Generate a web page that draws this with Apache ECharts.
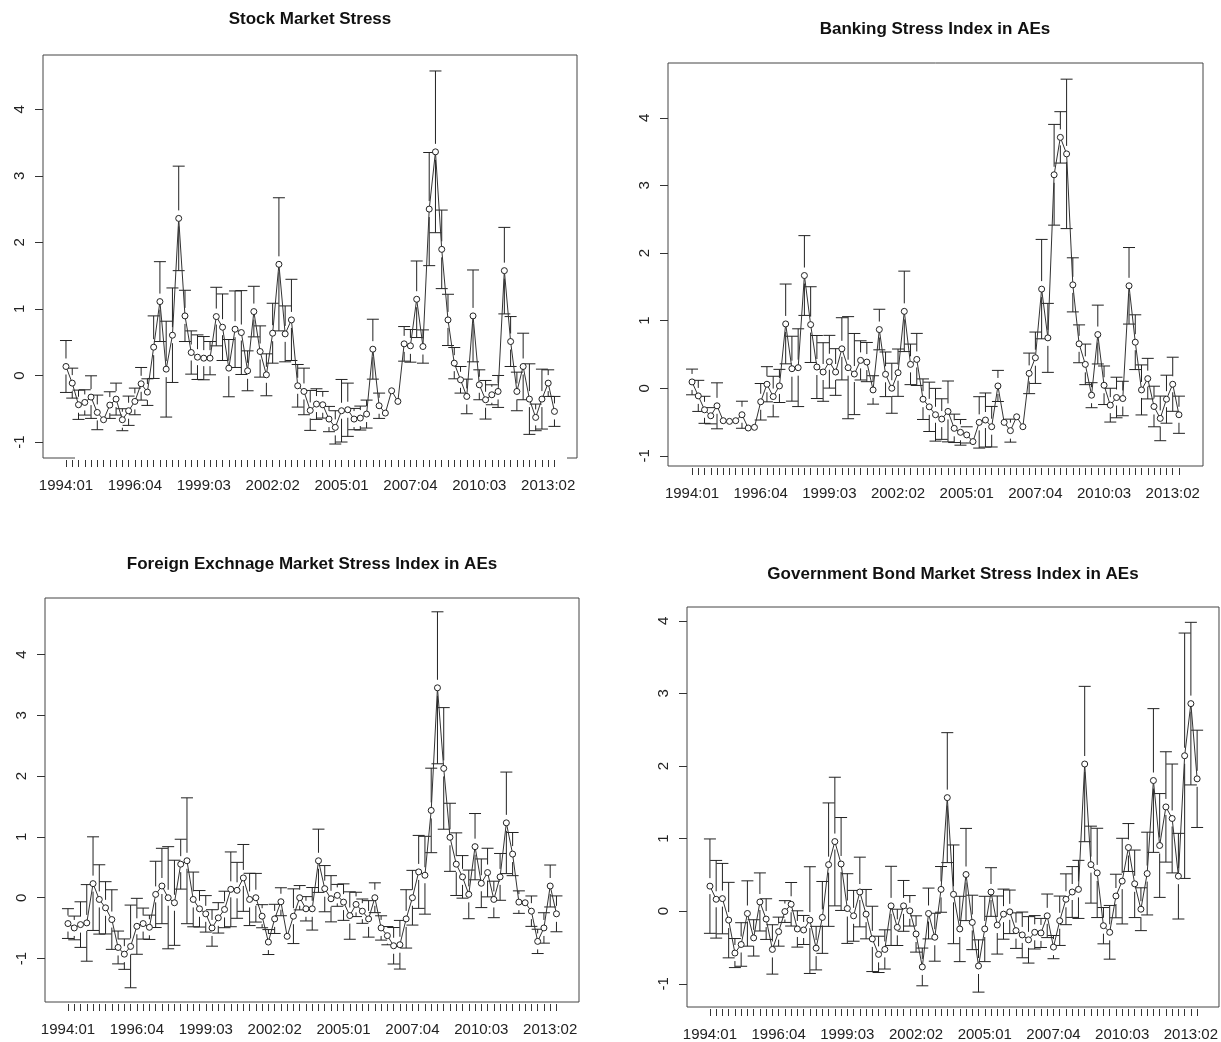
<!DOCTYPE html>
<html><head><meta charset="utf-8">
<script src="https://cdn.jsdelivr.net/npm/echarts@6/dist/echarts.min.js"></script>
<style>html,body{margin:0;padding:0;background:#fff}#c{width:1221px;height:1042px}</style>
</head><body><div id="c"></div>
<script>
// Quarter tick labels 1994:01 .. 2013:03 (79 quarters)
const quarterLabels = [];
for (let y = 1994; y <= 2013; y++) for (let q = 1; q <= 4; q++) quarterLabels.push(y + ':0' + q);
const nQ = 79;
const tickIndex = Array.from({length: nQ}, (_, i) => i);
const labelIndex = [0, 11, 22, 33, 44, 55, 66, 77];
const yTicks = [-1, 0, 1, 2, 3, 4];

const titles = ['Stock Market Stress', 'Banking Stress Index in AEs',
  'Foreign Exchnage Market Stress Index in AEs', 'Government Bond Market Stress Index in AEs'];

const stockVal = [0.135,-0.115,-0.44,-0.405,-0.325,-0.555,-0.665,-0.445,-0.355,-0.665,
 -0.53,-0.39,-0.125,-0.25,0.425,1.11,0.095,0.605,2.36,0.895,
 0.345,0.275,0.26,0.26,0.885,0.725,0.11,0.695,0.645,0.07,
 0.96,0.36,0.01,0.635,1.67,0.625,0.835,-0.155,-0.24,-0.525,
 -0.43,-0.44,-0.655,-0.78,-0.53,-0.515,-0.655,-0.64,-0.58,0.395,
 -0.455,-0.565,-0.23,-0.39,0.475,0.445,1.145,0.435,2.5,3.36,
 1.895,0.835,0.185,-0.065,-0.315,0.895,-0.14,-0.365,-0.29,-0.24,
 1.575,0.51,-0.24,0.135,-0.355,-0.63,-0.355,-0.115,-0.54];
const stockErr = [0.39,0.225,0.22,0.19,0.32,0.26,0.12,0.2,0.24,0.165,
 0.22,0.2,0.245,0.2,0.47,0.6,0.72,0.71,0.785,0.385,
 0.325,0.335,0.325,0.25,0.44,0.5,0.43,0.575,0.63,0.3,
 0.38,0.385,0.315,0.45,1.0,0.42,0.61,0.32,0.35,0.3,
 0.23,0.2,0.19,0.25,0.47,0.4,0.16,0.18,0.21,0.45,
 0.19,0.1,0.08,0.06,0.26,0.245,0.575,0.25,0.85,1.215,
 0.59,0.385,0.235,0.2,0.26,0.69,0.225,0.29,0.15,0.24,
 0.65,0.375,0.29,0.5,0.53,0.2,0.45,0.2,0.225];

const bankVal = [0.093,-0.113,-0.319,-0.407,-0.26,-0.48,-0.49,-0.48,-0.392,-0.588,
 -0.578,-0.2,0.059,-0.123,0.034,0.951,0.289,0.304,1.667,0.941,
 0.314,0.24,0.392,0.24,0.583,0.304,0.21,0.412,0.387,-0.025,
 0.868,0.206,0.0,0.23,1.137,0.353,0.426,-0.162,-0.275,-0.392,
 -0.456,-0.343,-0.593,-0.652,-0.69,-0.789,-0.505,-0.47,-0.569,0.034,
 -0.505,-0.627,-0.422,-0.569,0.22,0.451,1.466,0.745,3.157,3.71,
 3.466,1.529,0.657,0.353,-0.103,0.794,0.044,-0.25,-0.137,-0.152,
 1.515,0.681,-0.025,0.142,-0.27,-0.446,-0.162,0.059,-0.392];
const bankErr = [0.19,0.23,0.2,0.12,0.34,0.08,0.06,0.08,0.2,0.08,
 0.1,0.27,0.26,0.3,0.245,0.59,0.48,0.575,0.59,0.56,
 0.466,0.433,0.39,0.345,0.46,0.755,0.6,0.29,0.29,0.21,
 0.3,0.33,0.37,0.35,0.595,0.3,0.385,0.3,0.365,0.39,
 0.3,0.45,0.21,0.19,0.12,0.08,0.38,0.4,0.3,0.23,
 0.1,0.17,0.1,0.05,0.3,0.38,0.735,0.51,0.745,0.38,
 1.105,0.4,0.28,0.3,0.185,0.435,0.285,0.25,0.3,0.255,
 0.566,0.405,0.37,0.3,0.3,0.33,0.355,0.4,0.275];

const fxVal = [-0.425,-0.497,-0.442,-0.414,0.232,-0.028,-0.166,-0.359,-0.818,-0.928,
 -0.801,-0.47,-0.425,-0.486,0.055,0.193,0.0,-0.083,0.552,0.608,
 -0.028,-0.182,-0.265,-0.497,-0.331,-0.193,0.138,0.122,0.326,-0.028,
 0.0,-0.304,-0.729,-0.348,-0.066,-0.635,-0.304,0.0,-0.182,-0.182,
 0.608,0.149,-0.017,0.039,-0.072,-0.293,-0.11,-0.221,-0.348,0.0,
 -0.497,-0.624,-0.79,-0.773,-0.348,0.0,0.425,0.37,1.436,3.453,
 2.127,0.994,0.552,0.343,0.055,0.84,0.238,0.414,-0.028,0.343,
 1.232,0.718,-0.072,-0.083,-0.221,-0.718,-0.497,0.193,-0.265];
const fxErr = [0.245,0.195,0.375,0.63,0.77,0.57,0.43,0.49,0.27,0.25,
 0.68,0.46,0.255,0.2,0.545,0.62,0.84,0.7,0.41,1.035,
 0.45,0.3,0.3,0.3,0.25,0.3,0.615,0.46,0.55,0.43,
 0.4,0.19,0.205,0.24,0.23,0.1,0.45,0.2,0.2,0.35,
 0.52,0.38,0.38,0.18,0.3,0.39,0.2,0.2,0.3,0.245,
 0.2,0.15,0.3,0.4,0.48,0.45,0.6,0.64,0.695,1.25,
 1.0,0.56,0.515,0.35,0.4,0.545,0.4,0.4,0.3,0.385,
 0.835,0.355,0.185,0.11,0.25,0.2,0.25,0.345,0.295];

const govVal = [0.345,0.164,0.173,-0.123,-0.577,-0.459,-0.032,-0.368,0.127,-0.109,
 -0.527,-0.282,-0.005,0.095,-0.245,-0.259,-0.123,-0.509,-0.086,0.641,
 0.959,0.65,0.036,-0.064,0.264,-0.041,-0.382,-0.595,-0.527,0.073,
 -0.223,0.073,0.005,-0.314,-0.768,-0.032,-0.359,0.3,1.564,0.232,
 -0.245,0.505,-0.155,-0.755,-0.245,0.264,-0.191,-0.041,-0.009,-0.268,
 -0.327,-0.395,-0.291,-0.3,-0.064,-0.495,-0.132,0.164,0.264,0.3,
 2.027,0.641,0.527,-0.2,-0.291,0.209,0.414,0.877,0.377,0.027,
 0.518,1.8,0.905,1.436,1.277,0.482,2.141,2.859,1.823];
const govErr = [0.65,0.535,0.485,0.52,0.2,0.3,0.45,0.25,0.4,0.28,
 0.34,0.2,0.15,0.3,0.25,0.2,0.735,0.3,0.495,0.85,
 0.886,0.64,0.48,0.35,0.48,0.34,0.45,0.25,0.27,0.545,
 0.25,0.35,0.21,0.25,0.26,0.35,0.33,0.315,0.895,0.68,
 0.45,0.635,0.375,0.36,0.45,0.335,0.4,0.345,0.3,0.245,
 0.315,0.32,0.23,0.2,0.3,0.16,0.34,0.35,0.35,0.4,
 1.07,0.53,0.615,0.25,0.37,0.3,0.59,0.33,0.465,0.295,
 0.57,0.99,0.715,0.76,0.75,0.59,1.69,1.12,0.67];

// layout (pixels) and axis ranges
const panels = [
  {vals: stockVal, errs: stockErr, box: [43, 55, 534, 403], y: [-1.24, 4.815], x: [-3.67, 81.6], tx: 310, ty: 11, mask: true},
  {vals: bankVal, errs: bankErr, box: [668, 63, 535, 403], y: [-1.15, 4.81], x: [-3.85, 81.85], tx: 935, ty: 21, mask: false},
  {vals: fxVal, errs: fxErr, box: [45, 598, 534, 404], y: [-1.715, 4.93], x: [-3.67, 81.6], tx: 312, ty: 556, mask: false},
  {vals: govVal, errs: govErr, box: [687, 607, 533, 404], y: [-1.32, 4.19], x: [-3.67, 81.5], tx: 953, ty: 566, mask: false}
];

const FONT = "'Liberation Sans', Arial, sans-serif";
const INK = '#222';
const GAP = 8, CAP = 6;

function errRender(params, api) {
  const i = api.value(0), v = api.value(1), e = api.value(2);
  const p = api.coord([i, v]), hi = api.coord([i, v + e]), lo = api.coord([i, v - e]);
  const x = p[0];
  const st = {stroke: INK, lineWidth: 1, fill: null};
  const ch = [];
  if (p[1] - hi[1] > GAP) {
    ch.push({type: 'line', shape: {x1: x, y1: hi[1], x2: x, y2: p[1] - GAP}, style: st});
    ch.push({type: 'line', shape: {x1: x - CAP, y1: hi[1], x2: x + CAP, y2: hi[1]}, style: st});
  }
  if (lo[1] - p[1] > GAP) {
    ch.push({type: 'line', shape: {x1: x, y1: p[1] + GAP, x2: x, y2: lo[1]}, style: st});
    ch.push({type: 'line', shape: {x1: x - CAP, y1: lo[1], x2: x + CAP, y2: lo[1]}, style: st});
  }
  return {type: 'group', children: ch};
}

function maskRender(params) {
  const c = params.coordSys;
  const yb = c.y + c.height;
  return {type: 'line', shape: {x1: c.x + 32, y1: yb, x2: c.x + c.width - 10, y2: yb},
          style: {stroke: '#fff', lineWidth: 3}};
}

const option = {
  animation: false,
  backgroundColor: '#fff',
  title: panels.map((p, k) => ({
    text: titles[k], left: p.tx, top: p.ty, textAlign: 'center', padding: 0,
    textStyle: {fontFamily: FONT, fontSize: 17, fontWeight: 'bold', color: '#111'}
  })),
  grid: panels.map(p => ({left: p.box[0], top: p.box[1], width: p.box[2], height: p.box[3],
    show: true, borderColor: '#444', borderWidth: 1, backgroundColor: 'transparent', containLabel: false})),
  xAxis: panels.map((p, k) => ({
    gridIndex: k, type: 'value', min: p.x[0], max: p.x[1], offset: 2, position: 'bottom',
    axisLine: {show: false, onZero: false}, splitLine: {show: false},
    axisTick: {show: true, length: 7, customValues: tickIndex, lineStyle: {color: '#333', width: 1}},
    axisLabel: {customValues: labelIndex, formatter: v => quarterLabels[Math.round(v)] || '',
      margin: 18, fontSize: 15, fontFamily: FONT, color: INK}
  })),
  yAxis: panels.map((p, k) => ({
    gridIndex: k, type: 'value', min: p.y[0], max: p.y[1], position: 'left',
    axisLine: {show: false, onZero: false}, splitLine: {show: false},
    axisTick: {show: true, length: 8, customValues: yTicks, lineStyle: {color: '#333', width: 1}},
    axisLabel: {customValues: yTicks, rotate: 90, margin: 16, fontSize: 15, fontFamily: FONT, color: INK}
  })),
  series: []
};

panels.forEach((p, k) => {
  option.series.push({
    type: 'custom', xAxisIndex: k, yAxisIndex: k, clip: false, silent: true, z: 2,
    renderItem: errRender,
    data: p.vals.map((v, i) => [i, v, p.errs[i]])
  });
  option.series.push({
    type: 'line', xAxisIndex: k, yAxisIndex: k, z: 3, silent: true,
    data: p.vals.map((v, i) => [i, v]),
    symbol: 'circle', symbolSize: 6, showSymbol: true,
    lineStyle: {color: '#333', width: 1},
    itemStyle: {color: '#fff', borderColor: INK, borderWidth: 1}
  });
  if (p.mask) {
    option.series.push({
      type: 'custom', xAxisIndex: k, yAxisIndex: k, clip: false, silent: true, z: 5,
      renderItem: maskRender, data: [[0, 0]]
    });
  }
});

const chart = echarts.init(document.getElementById('c'), null, {renderer: 'canvas'});
chart.setOption(option);
</script>
</body></html>
